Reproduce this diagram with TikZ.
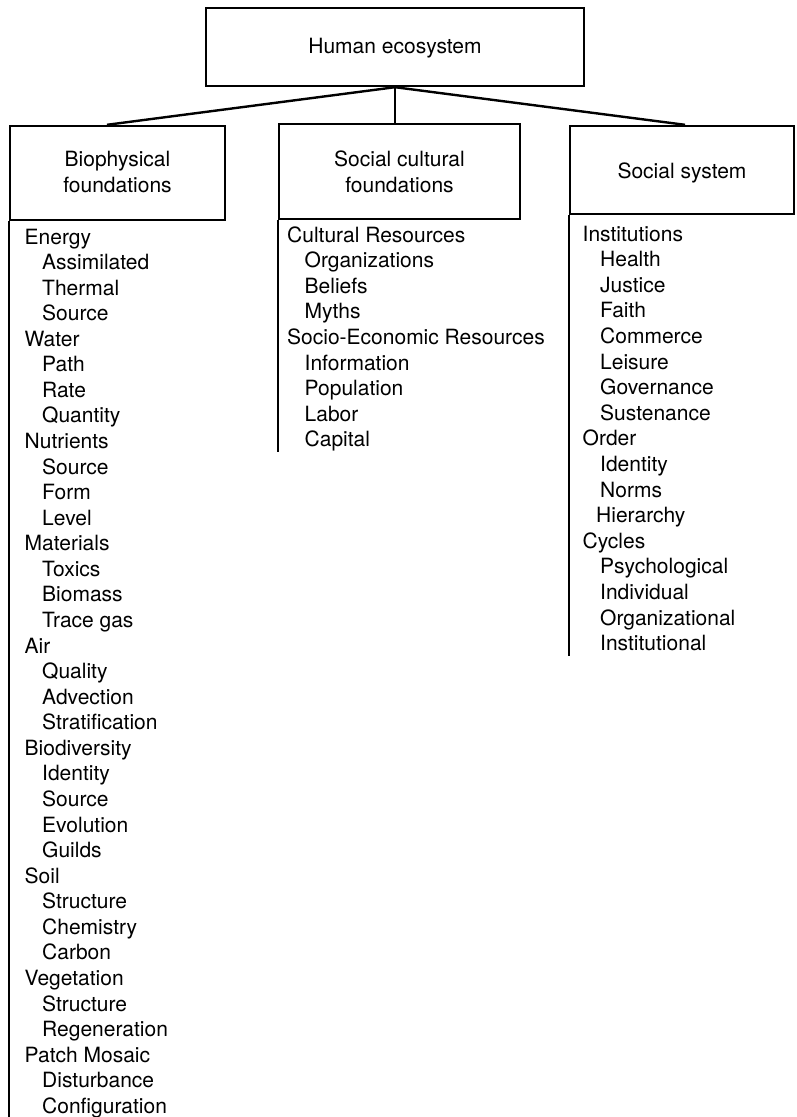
\documentclass[tikz,border=0pt]{standalone}
\usepackage{fontspec}
\setmainfont{TeX Gyre Heros}
\begin{document}
\begin{tikzpicture}[x=1pt,y=-1pt,
  frame/.style={draw, line width=2.4pt, inner sep=0pt},
  link/.style={line width=2.4pt},
  rail/.style={line width=2.4pt},
  heading/.style={font=\fontsize{21}{26}\selectfont, inner sep=0pt, anchor=base},
  entry/.style={font=\fontsize{21}{26}\selectfont, inner sep=0pt, anchor=base west}]
\useasboundingbox (0,0) rectangle (796,1117);

% frames
\node[frame, minimum width=378pt, minimum height=78pt] (top) at (395,47) {};
\node[frame, minimum width=215pt, minimum height=94pt] (bio) at (117.5,173) {};
\node[frame, minimum width=241pt, minimum height=95pt] (soc) at (399.5,171.5) {};
\node[frame, minimum width=224pt, minimum height=88pt] (sys) at (682,170) {};

% headings
\node[heading] (toptext) at (395,53) {Human ecosystem};
\node[heading] (biotext1) at (117.5,166) {Biophysical};
\node[heading] (biotext2) at (117.5,192) {foundations};
\node[heading] (soctext1) at (399.5,166) {Social cultural};
\node[heading] (soctext2) at (399.5,192) {foundations};
\node[heading] (systext) at (682,178) {Social system};

% connectors
\draw[link] (top.south) -- ([xshift=-10.5pt]bio.north);
\draw[link] (top.south) -- (top.south |- soc.north);
\draw[link] (top.south) -- ([xshift=3pt]sys.north);

% list rails
\draw[rail] (bio.south west) -- ++(0,897);
\draw[rail] (soc.south west) -- ++(0,231.5);
\draw[rail] (sys.south west) -- ++(0,441);

% biophysical list
\foreach \x/\t [count=\i from 0] in {24.5/Energy,42/Assimilated,42/Thermal,42/Source,
  24.5/Water,42/Path,42/Rate,42/Quantity,
  24.5/Nutrients,42/Source,42/Form,42/Level,
  24.5/Materials,42/Toxics,42/Biomass,42/Trace gas,
  24.5/Air,42/Quality,42/Advection,42/Stratification,
  24.5/Biodiversity,42/Identity,42/Source,42/Evolution,42/Guilds,
  24.5/Soil,42/Structure,42/Chemistry,42/Carbon,
  24.5/Vegetation,42/Structure,42/Regeneration,
  24.5/Patch Mosaic,42/Disturbance,42/Configuration}
  \node[entry] (bioitem\i) at (\x,244+25.57*\i) {\t};

% social cultural list
\foreach \x/\t [count=\i from 0] in {287/Cultural Resources,304.5/Organizations,304.5/Beliefs,304.5/Myths,
  287/Socio-Economic Resources,304.5/Information,304.5/Population,304.5/Labor,304.5/Capital}
  \node[entry] (socitem\i) at (\x,242+25.6*\i) {\t};

% social system list
\foreach \x/\t [count=\i from 0] in {582.5/Institutions,600/Health,600/Justice,600/Faith,600/Commerce,
  600/Leisure,600/Governance,600/Sustenance,
  582.5/Order,600/Identity,600/Norms,596/Hierarchy,
  582.5/Cycles,600/Psychological,600/Individual,600/Organizational,600/Institutional}
  \node[entry] (sysitem\i) at (\x,241+25.6*\i) {\t};
\end{tikzpicture}
\end{document}
